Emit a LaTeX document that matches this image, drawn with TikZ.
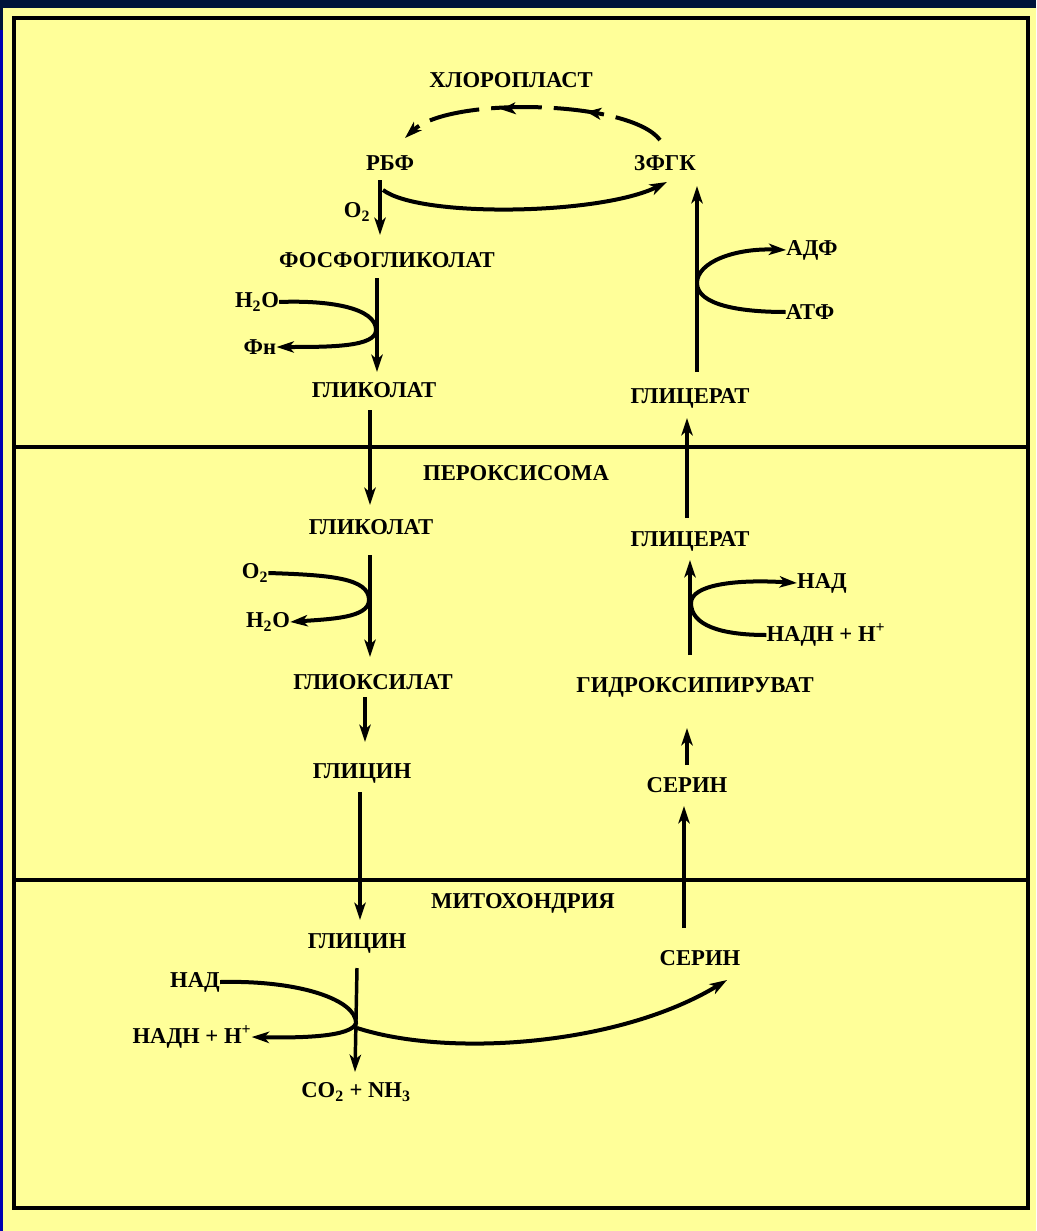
\documentclass[tikz,border=0pt]{standalone}
\usepackage{fontspec}
\setmainfont{Liberation Serif}
\usetikzlibrary{arrows.meta,decorations.markings}
\definecolor{navy}{RGB}{0,20,58}
\definecolor{paper}{RGB}{255,255,153}
\tikzset{
  lbl/.style={inner sep=0pt, font=\fontsize{17}{20}\selectfont\bfseries},
  tip/.style={-{Stealth[length=13pt,width=8.5pt,inset=3.5pt]}},
  arr/.style={line width=2.6pt, tip},
  curvearr/.style={line width=3pt, tip},
  plainline/.style={line width=3pt},
  frame/.style={line width=2.3pt},
  dasharc/.style={line width=3pt, dash pattern=on 38pt off 9pt, tip,
    postaction={decorate},
    decoration={markings,
      mark=at position 0.3 with {\arrow{Stealth[length=11pt,width=9pt,inset=3pt]}},
      mark=at position 0.62 with {\arrow{Stealth[length=11pt,width=9pt,inset=3pt]}}}}
}
\begin{document}
\begin{tikzpicture}[x=0.75pt,y=-0.75pt]
\useasboundingbox (0,0) rectangle (1036,1231);
\fill[navy] (0,0) rectangle (1036,1231);
\fill[blue!70!black] (0,30) rectangle (3,1231);
\fill[paper] (3,8) rectangle (1036,1231);
\draw[frame] (14,18) rectangle (1028,1208);
\draw[frame] (14,447) -- (1028,447);
\draw[frame] (14,880) -- (1028,880);

% texts
\node[lbl] (chl) at (511,80) {ХЛОРОПЛАСТ};
\node[lbl] (rbf) at (390,163) {РБФ};
\node[lbl] (fgk) at (665,163) {3ФГК};
\node[lbl] (o2a) at (357,212) {O\textsubscript{2}};
\node[lbl] (fgl) at (387,260) {ФОСФОГЛИКОЛАТ};
\node[lbl] (h2oa) at (257,302) {H\textsubscript{2}O};
\node[lbl] (fn) at (260,347) {Фн};
\node[lbl] (gla) at (374,390) {ГЛИКОЛАТ};
\node[lbl] (adf) at (812,250) {АДФ};
\node[lbl] (atf) at (810,312) {АТФ};
\node[lbl] (gca) at (690,398) {ГЛИЦЕРАТ};
\node[lbl] (per) at (516,473) {ПЕРОКСИСОМА};
\node[lbl] (glb) at (371,527) {ГЛИКОЛАТ};
\node[lbl] (gcb) at (690,541) {ГЛИЦЕРАТ};
\node[lbl] (o2b) at (255,573) {O\textsubscript{2}};
\node[lbl] (h2ob) at (268,622) {H\textsubscript{2}O};
\node[lbl] (nada) at (822,583) {НАД};
\node[lbl] (nadha) at (826,635) {НАДН + Н\textsuperscript{+}};
\node[lbl] (glo) at (373,682) {ГЛИОКСИЛАТ};
\node[lbl] (gpv) at (695,687) {ГИДРОКСИПИРУВАТ};
\node[lbl] (glia) at (362,773) {ГЛИЦИН};
\node[lbl] (sera) at (687,785) {СЕРИН};
\node[lbl] (mit) at (523,903) {МИТОХОНДРИЯ};
\node[lbl] (glib) at (357,943) {ГЛИЦИН};
\node[lbl] (serb) at (700,958) {СЕРИН};
\node[lbl] (nadb) at (195,982) {НАД};
\node[lbl] (nadhb) at (192,1037) {НАДН + Н\textsuperscript{+}};
\node[lbl] (co2) at (356,1092) {CO\textsubscript{2} + NH\textsubscript{3}};

% connector end points
\coordinate (p1) at (380,180);  \coordinate (p2) at (380,235);
\coordinate (p3) at (377,278);  \coordinate (p4) at (377,372);
\coordinate (j1) at (376,330);
\coordinate (p5) at (370,410);  \coordinate (p6) at (370,505);
\coordinate (p7) at (370,555);  \coordinate (p8) at (370,657);
\coordinate (j2) at (369,600);
\coordinate (p9) at (365,697);  \coordinate (p10) at (365,742);
\coordinate (p11) at (360,792); \coordinate (p12) at (360,920);
\coordinate (p13) at (357,968); \coordinate (p14) at (355,1072);
\coordinate (j3) at (356,1023); \coordinate (j4) at (357,1028);
\coordinate (p15) at (727,980);
\coordinate (p16) at (684,928); \coordinate (p17) at (684,806);
\coordinate (p18) at (687,765); \coordinate (p19) at (687,728);
\coordinate (p20) at (690,655); \coordinate (p21) at (690,560);
\coordinate (j5) at (691,603);
\coordinate (p22) at (687,518); \coordinate (p23) at (687,418);
\coordinate (p24) at (697,372); \coordinate (p25) at (697,186);
\coordinate (j6) at (697,283);
\coordinate (q1) at (383,190);  \coordinate (q2) at (667,182);
\coordinate (d1) at (660,140);  \coordinate (d2) at (405,138);

% chloroplast
\draw[dasharc] (d1) .. controls (630,100) and (450,96) .. (d2);
\draw[arr] (p1) -- (p2);
\draw[curvearr] (q1) .. controls (420,218) and (600,215) .. (q2);
\draw[arr] (p3) -- (p4);
\draw[curvearr] (h2oa.east) .. controls (330,300) and (376,308) .. (j1)
   .. controls (376,347) and (330,347) .. (fn.east);
\draw[arr] (p24) -- (p25);
\draw[plainline] (atf.west) .. controls (740,312) and (697,305) .. (j6);
\draw[curvearr] (j6) .. controls (697,262) and (735,248) .. (adf.west);

% peroxisome
\draw[arr] (p5) -- (p6);
\draw[arr] (p7) -- (p8);
\draw[curvearr] (o2b.east) .. controls (330,575) and (369,578) .. (j2)
   .. controls (369,618) and (330,619) .. (h2ob.east);
\draw[arr] (p9) -- (p10);
\draw[arr] (p11) -- (p12);
\draw[arr] (p20) -- (p21);
\draw[plainline] (nadha.west) .. controls (720,635) and (691,625) .. (j5);
\draw[curvearr] (j5) .. controls (691,585) and (735,579) .. (nada.west);
\draw[arr] (p18) -- (p19);
\draw[arr] (p22) -- (p23);

% mitochondria
\draw[arr] (p13) -- (p14);
\draw[curvearr] (nadb.east) .. controls (300,980) and (356,1000) .. (j3)
   .. controls (352,1037) and (300,1038) .. (nadhb.east);
\draw[curvearr] (j4) .. controls (450,1058) and (620,1045) .. (p15);
\draw[arr] (p16) -- (p17);
\end{tikzpicture}
\end{document}
